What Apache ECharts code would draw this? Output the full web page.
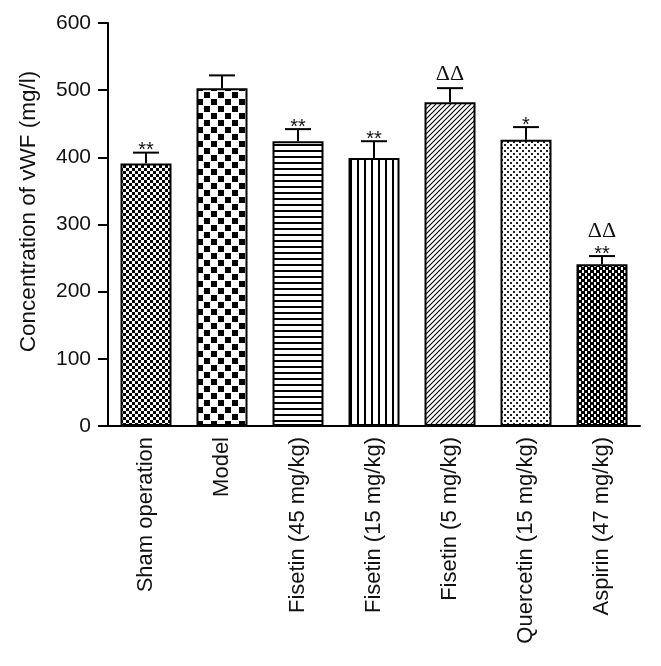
<!DOCTYPE html>
<html>
<head>
<meta charset="utf-8">
<script src="https://cdn.jsdelivr.net/npm/echarts@6/dist/echarts.min.js"></script>
<style>html,body{margin:0;padding:0;background:#fff;}#c{width:661px;height:666px;}</style>
</head>
<body>
<div id="c"></div>
<script>
var categories = ['Sham operation', 'Model', 'Fisetin (45 mg/kg)', 'Fisetin (15 mg/kg)', 'Fisetin (5 mg/kg)', 'Quercetin (15 mg/kg)', 'Aspirin (47 mg/kg)'];
var means = [391, 503, 424, 399, 482, 426, 241];
var errors = [16, 19, 18, 25, 21, 19, 12];
var sigMarks = ['**', '', '**', '**', '', '*', '**'];
var deltaMarks = ['', '', '', '', 'ΔΔ', '', 'ΔΔ'];
var yTicks = [0, 100, 200, 300, 400, 500, 600];

function makePattern(w, h, draw) {
  var c = document.createElement('canvas');
  c.width = w; c.height = h;
  var ctx = c.getContext('2d');
  ctx.fillStyle = '#fff'; ctx.fillRect(0, 0, w, h);
  ctx.fillStyle = '#000'; ctx.strokeStyle = '#000';
  draw(ctx);
  return { image: c, repeat: 'repeat' };
}
var patterns = [
  makePattern(6, 6, function (ctx) { ctx.fillRect(0, 0, 3, 3); ctx.fillRect(3, 3, 3, 3); }),
  makePattern(14, 14, function (ctx) { ctx.fillRect(1, 1, 6, 6); ctx.fillRect(8, 8, 6, 6); }),
  makePattern(8, 6.5, function (ctx) { ctx.fillRect(0, 0, 8, 2); }),
  makePattern(7, 8, function (ctx) { ctx.fillRect(0, 0, 2, 8); }),
  makePattern(5, 5, function (ctx) { ctx.lineWidth = 1.1; ctx.beginPath(); ctx.moveTo(-1, 6); ctx.lineTo(6, -1); ctx.moveTo(-1, 1); ctx.lineTo(1, -1); ctx.moveTo(4, 6); ctx.lineTo(6, 4); ctx.stroke(); }),
  makePattern(6, 6, function (ctx) { ctx.fillStyle = '#222'; ctx.fillRect(0, 0, 2, 2); ctx.fillRect(3, 3, 2, 2); }),
  makePattern(6, 6, function (ctx) { ctx.fillRect(0, 0, 6, 6); ctx.fillStyle = '#fff'; ctx.fillRect(0, 0, 2, 3); ctx.fillRect(3, 3, 2, 3); })
];

var chart = echarts.init(document.getElementById('c'), null, { renderer: 'canvas' });
var font = 'Liberation Sans, Arial, Helvetica, sans-serif';
chart.setOption({
  backgroundColor: '#fff',
  animation: false,
  grid: { left: 108, right: 21, top: 23, bottom: 240 },
  xAxis: {
    type: 'category',
    data: categories,
    axisLine: { lineStyle: { color: '#000', width: 2 } },
    axisTick: { show: false },
    axisLabel: { rotate: 90, interval: 0, fontSize: 22, fontFamily: font, color: '#111', margin: 11, padding: [0, 0, 6, 0] }
  },
  yAxis: {
    type: 'value',
    min: 0, max: 600, interval: 100,
    name: 'Concentration of vWF (mg/l)',
    nameLocation: 'middle',
    nameGap: 68,
    nameTextStyle: { fontSize: 22.5, fontFamily: font, color: '#111', padding: [0, 0, 0, 26] },
    splitLine: { show: false },
    axisLine: { show: true, lineStyle: { color: '#000', width: 2 } },
    axisTick: { show: true, length: 10, lineStyle: { color: '#000', width: 2 } },
    axisLabel: { fontSize: 21, fontFamily: font, color: '#111', margin: 17,
      formatter: function (v) { return yTicks.indexOf(v) >= 0 ? String(v) : ''; } }
  },
  series: [
    {
      type: 'bar',
      barWidth: 51,
      data: means.map(function (v, i) {
        return { value: v, itemStyle: { color: patterns[i], borderColor: '#000', borderWidth: 2 } };
      })
    },
    {
      type: 'custom',
      data: means.map(function (v, i) { return [i, v, errors[i]]; }),
      renderItem: function (params, api) {
        var i = api.value(0), m = api.value(1), e = api.value(2);
        var p0 = api.coord([i, m]);
        var p1 = api.coord([i, m + e]);
        var half = 13;
        var children = [
          { type: 'line', shape: { x1: p0[0], y1: p0[1], x2: p1[0], y2: p1[1] }, style: { stroke: '#000', lineWidth: 2 } },
          { type: 'line', shape: { x1: p1[0] - half, y1: p1[1], x2: p1[0] + half, y2: p1[1] }, style: { stroke: '#000', lineWidth: 2 } }
        ];
        var s = sigMarks[i], d = deltaMarks[i];
        var cap = p1[1];
        if (s) {
          children.push({ type: 'text', x: p1[0], y: cap + 8, style: { text: s, font: '20px ' + font, fill: '#111', align: 'center', verticalAlign: 'bottom' } });
        }
        if (d) {
          children.push({ type: 'text', x: p1[0], y: s ? cap - 14 : cap - 3, style: { text: d, font: '22px Liberation Serif, Times New Roman, serif', fill: '#111', align: 'center', verticalAlign: 'bottom' } });
        }
        return { type: 'group', children: children };
      },
      z: 5
    }
  ]
});
</script>
</body>
</html>
